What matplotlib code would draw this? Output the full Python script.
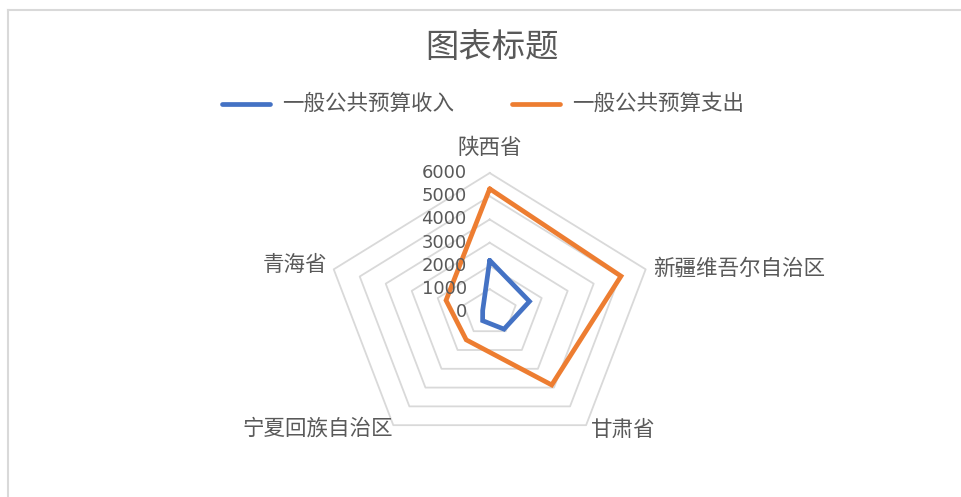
import matplotlib.pyplot as plt
import numpy as np
from matplotlib.lines import Line2D

plt.rcParams['font.family'] = ['Noto Sans CJK SC', 'DejaVu Sans']

# Provinces, clockwise from the top
categories = ['陕西省', '新疆维吾尔自治区', '甘肃省', '宁夏回族自治区', '青海省']
income = [2240, 1530, 890, 440, 270]
spending = [5320, 5050, 3860, 1460, 1680]
series_names = ['一般公共预算收入', '一般公共预算支出']
series_colors = ['#4472C4', '#ED7D31']
ring_values = [1000, 2000, 3000, 4000, 5000, 6000]
tick_values = [0, 1000, 2000, 3000, 4000, 5000, 6000]

TEXT = '#595959'
GRID = '#D9D9D9'
W, H = 962, 497

fig = plt.figure(figsize=(W / 100, H / 100), dpi=100)

# chart frame (top and left edges)
fig.add_artist(Line2D([8 / W, 1], [1 - 10 / H, 1 - 10 / H], color=GRID, lw=1.5))
fig.add_artist(Line2D([8 / W, 8 / W], [1 - 10 / H, 0], color=GRID, lw=1.5))

# radar drawn on plain axes so the horizontal stretch can differ from vertical
cx, cy = 489.7, 312.4
rx, ry = 164.0, 139.4
ax = fig.add_axes([(cx - rx) / W, 1 - (cy + ry) / H, 2 * rx / W, 2 * ry / H])
rmax = ring_values[-1]
ax.set_xlim(-rmax, rmax)
ax.set_ylim(-rmax, rmax)
ax.axis('off')

n = len(categories)
theta = np.arange(n) * 2 * np.pi / n
theta_closed = np.append(theta, theta[0])


def to_xy(values, closed=True):
    v = np.asarray(values, dtype=float)
    t = theta
    if closed:
        v = np.append(v, v[0])
        t = theta_closed
    return v * np.sin(t), v * np.cos(t)


for r in ring_values:
    x, y = to_xy([r] * n)
    ax.plot(x, y, color=GRID, lw=1.3, clip_on=False, zorder=1)

for vals, color in zip([income, spending], series_colors):
    x, y = to_xy(vals)
    ax.plot(x, y, color=color, lw=3.4, solid_joinstyle='miter',
            solid_capstyle='round', clip_on=False, zorder=3)

# value axis labels along the top spoke
for v in tick_values:
    ax.annotate(str(v), xy=(0, v), xytext=(-23, 0), textcoords='offset pixels',
                ha='right', va='center', fontsize=13, color=TEXT,
                family='DejaVu Sans', zorder=4)

# category labels just outside the outer ring
label_offsets = [(0, 25, 'center'), (7, 1, 'left'), (5, -5, 'left'),
                 (0, -3, 'right'), (-6, 4, 'right')]
ox, oy = to_xy([rmax] * n, closed=False)
for cat, x, y, (dx, dy, ha) in zip(categories, ox, oy, label_offsets):
    ax.annotate(cat, xy=(x, y), xytext=(dx, dy), textcoords='offset pixels',
                ha=ha, va='center', fontsize=15.5, color=TEXT)

fig.text(492 / W, 1 - 48 / H, '图表标题', ha='center', va='center',
         fontsize=24, color=TEXT)

# legend
legend_x = [222, 512]
ly = 1 - 104 / H
for name, color, x0 in zip(series_names, series_colors, legend_x):
    fig.add_artist(Line2D([x0 / W, (x0 + 48) / W], [ly, ly], color=color,
                          lw=3.4, solid_capstyle='round'))
    fig.text((x0 + 60) / W, ly, name, ha='left', va='center',
             fontsize=15.5, color=TEXT)

fig.savefig('out.png', dpi=100)
plt.close(fig)
